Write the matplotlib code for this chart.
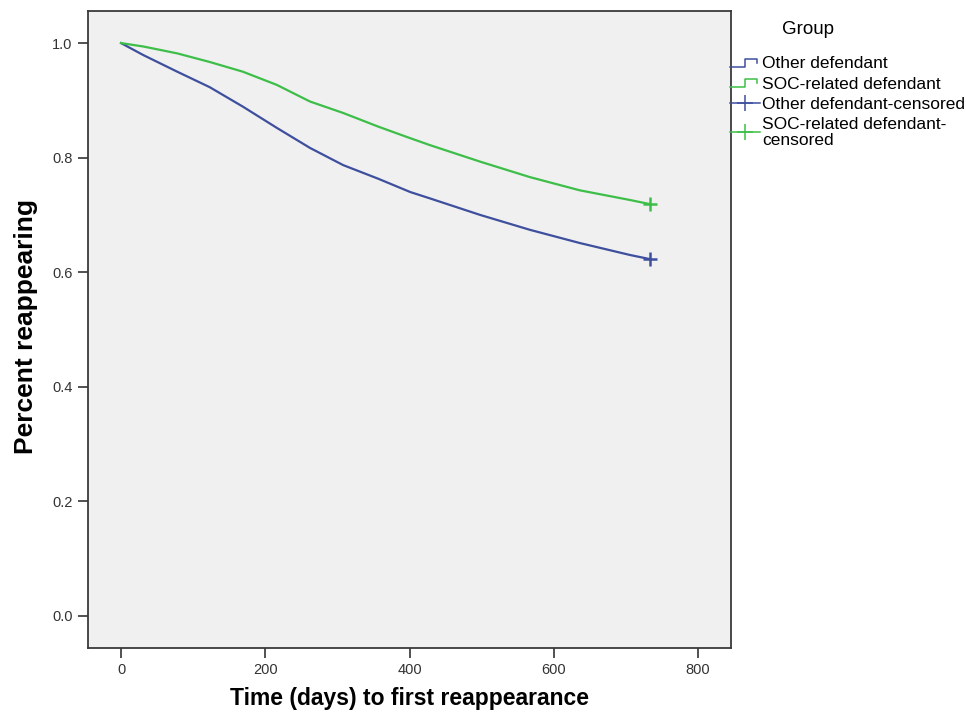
import matplotlib
matplotlib.use("Agg")
import matplotlib.pyplot as plt
from matplotlib.lines import Line2D
from matplotlib.legend_handler import HandlerBase

plt.rcParams["font.family"] = ["Liberation Sans", "DejaVu Sans"]

# survival curves (days, proportion still reappearing)
days = [0, 31, 78, 123, 169, 216, 262, 308, 357, 401, 428, 498, 567, 636, 706, 733]
other_surv = [1.0, 0.979, 0.950, 0.923, 0.889, 0.852, 0.817, 0.787, 0.763, 0.740,
              0.729, 0.700, 0.674, 0.651, 0.630, 0.623]
soc_surv = [1.0, 0.994, 0.982, 0.967, 0.950, 0.927, 0.898, 0.878, 0.854, 0.834,
            0.822, 0.793, 0.766, 0.743, 0.726, 0.719]

# censored point at the end of follow-up
censor_day = [733]
other_censor = [0.623]
soc_censor = [0.719]

x_ticks = [0, 200, 400, 600, 800]
y_ticks = [0.0, 0.2, 0.4, 0.6, 0.8, 1.0]

BLUE = "#3E4F9E"
GREEN = "#3DBE48"


class StepHandler(HandlerBase):
    # little step glyph, like the SPSS legend
    def create_artists(self, legend, orig_handle, xdescent, ydescent,
                       width, height, fontsize, trans):
        x0 = -xdescent
        y0 = -ydescent
        xs = [x0, x0 + 0.5 * width, x0 + 0.5 * width, x0 + 0.9 * width, x0 + 0.9 * width]
        ys = [y0 + 0.1 * height, y0 + 0.1 * height, y0 + 0.75 * height,
              y0 + 0.75 * height, y0 + 0.45 * height]
        ln = Line2D(xs, ys, color=orig_handle.get_color(), lw=1.1, transform=trans)
        return [ln]


fig = plt.figure(figsize=(9.66, 7.18), dpi=100)
ax = fig.add_axes([88 / 966, 1 - 648 / 718, (731 - 88) / 966, (648 - 11) / 718])
ax.set_facecolor("#F0F0F0")

ax.plot(days, other_surv, color=BLUE, lw=1.6)
ax.plot(days, soc_surv, color=GREEN, lw=1.6)
ax.plot(censor_day, other_censor, linestyle="none", marker="+", color=BLUE, ms=10, mew=1.8)
ax.plot(censor_day, soc_censor, linestyle="none", marker="+", color=GREEN, ms=10, mew=1.8)

ax.set_xlim(-45.8, 845.8)
ax.set_ylim(-0.056, 1.056)
ax.set_xticks(x_ticks)
ax.set_yticks(y_ticks)
ax.set_yticklabels(["%.1f" % v for v in y_ticks])

for s in ax.spines.values():
    s.set_color("#3A3A3A")
    s.set_linewidth(1.3)

ax.tick_params(axis="both", direction="out", length=7, width=1.2,
               color="#333333", labelcolor="#333333", labelsize=10.5, pad=4)

fig.text(409.5 / 966, 1 - 699 / 718, "Time (days) to first reappearance",
         ha="center", va="center", fontsize=16.5, fontweight="bold")
fig.text(26 / 966, 1 - 327 / 718, "Percent reappearing", rotation=90,
         ha="center", va="center", fontsize=19, fontweight="bold")

# legend
fig.text(782 / 966, 1 - 29 / 718, "Group", ha="left", va="center", fontsize=13.5)

h1 = Line2D([], [], color=BLUE)
h2 = Line2D([], [], color=GREEN)
h3 = Line2D([], [], color=BLUE, lw=1.1, marker="+", ms=12, mew=1.1)
h4 = Line2D([], [], color=GREEN, lw=1.1, marker="+", ms=12, mew=1.1)
labels = ["Other defendant", "SOC-related defendant", "Other defendant-censored",
          "SOC-related defendant-\ncensored"]
leg = fig.legend([h1, h2, h3, h4], labels, loc="upper left",
                 bbox_to_anchor=(730 / 966, 1 - 56 / 718), frameon=False,
                 fontsize=12.5, handlelength=1.75, handletextpad=0.1, labelspacing=0.3,
                 borderpad=0, borderaxespad=0,
                 handler_map={h1: StepHandler(), h2: StepHandler()})
for t in leg.get_texts():
    t.set_linespacing(1.05)

fig.savefig("out.png", dpi=100, facecolor="white")
